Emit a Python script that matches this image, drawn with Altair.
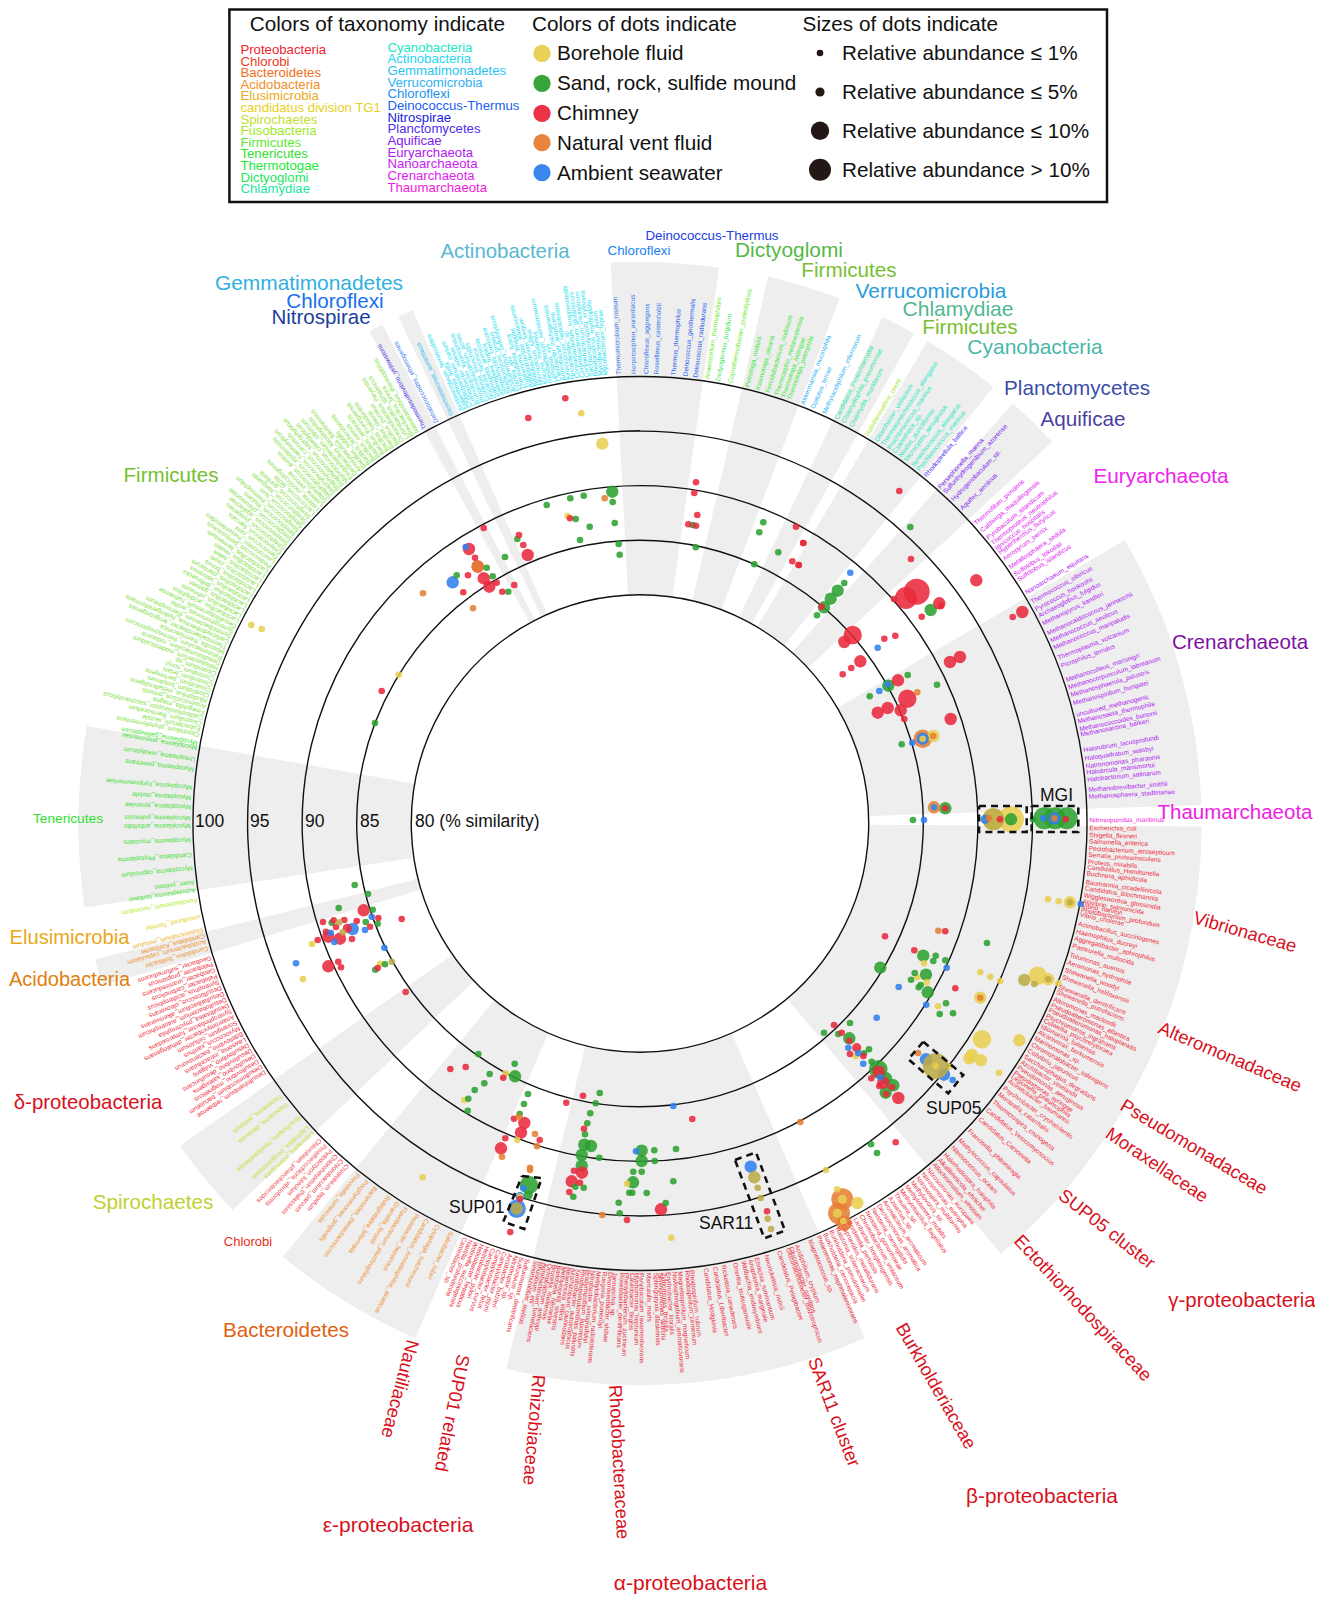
import numpy as np
import pandas as pd
import altair as alt

FONT = "Liberation Sans"
CX, CY, R_LABEL = 640, 823.5, 449.5

# ---------- scales: the layout plane of the circular diagram ----------
xs = alt.Scale(domain=[8, 1315], nice=False, zero=False)
ys = alt.Scale(domain=[1594, 8], nice=False, zero=False)
rs = alt.Scale(type="linear", domain=[80, 100], range=[228.7, 447.0], zero=False)
ts = alt.Scale(type="linear", domain=[0, 360], range=[0, 2 * np.pi], zero=False)
X = lambda f: alt.X(f, type="quantitative", scale=xs, axis=None)
Y = lambda f: alt.Y(f, type="quantitative", scale=ys, axis=None)

# ---------- rings (% similarity) and grey clade sectors ----------
ring_similarity = [80, 85, 90, 95, 100]
sector_start = [-3.0, 13.2, 25.6, 30.8, 41.6, 59.7, 90.3, 156.4, 203.6, 226.5, 253.2, 261.4, 331.2, 334.5]
sector_end = [8.1, 20.8, 29.2, 39.0, 47.2, 88.1, 140.0, 193.8, 219.5, 235.0, 256.0, 280.0, 332.7, 336.1]
sector_outer = [110.5] * 14

# ---------- dots (x, y in the diagram plane, abundance class) ----------
borehole = [(581.3,413.3,1),(602.3,443.7,3),(251.3,625,1),(261.7,629,1),(398.7,674.7,1),(1048,899.3,1),(1058.7,901.3,1),
 (1070,902.3,3),(924,963.3,1),(980.3,972.3,1),(990.3,976.7,1),(1000.3,981,1),(1037.7,975.7,5),(1048.3,979.3,3),(1058.3,983.3,1),
 (917,977.3,1),(926.7,982.3,1),(980.3,997.7,3),(938,1006.3,1),(982,1039.3,5),(1019.3,1040.3,3),(972,1055,3),(969.3,1058.3,3),
 (981,1060.3,3),(999,1072.7,1),(855.7,1056,1),(949,1066.7,1),(826,1170,1),(842.3,1199.3,2),(857.3,1203,3),
 (837,1189.3,1),(837.3,1213.3,2),(843.3,1221,1),(671.3,1237.7,1),(627,1183.7,1),(505.7,1073.3,1),(464.3,1100,1),(517.3,1140,1),
 (422.7,1177.3,1),(520,1196.7,1),(567.7,516,1),(312,944,1),(380.3,963.7,1),(303,979,1),(933.3,736,3),(922.7,738.7,1),
 (934,807.3,1),(993.3,819.3,6),(1011,819.3,7)]
mixed = [(1024.3,980,3),(1034.3,984,1),(1070,902.3,1),(1048.3,979.3,1),(754.3,1177.3,3),(757.7,1187.7,1),
 (760.7,1198,1),(767.7,1218.7,1),(771,1229,1),(516.7,1208.7,3),(339.3,922.3,1),(342.7,932.3,1),(391.7,961.7,1),(993.3,819.3,6)]
sand = [(910.3,527,1),(930.7,610,3),(844.3,583,1),(837.7,590.7,3),(830.7,598.7,3),(824,607.3,3),(817,615.3,1),(907.7,675,1),
 (888.3,685.7,3),(937,684.7,1),(869.7,696.3,1),(901.7,744.3,1),(945.3,808.3,3),(913,820,1),(1011,819.3,3),(1044.3,818.3,6),
 (1055,818.3,6),(1066.7,818.3,6),(1033,819.3,1),(987,943,1),(923.3,955.7,3),(935.7,955.7,1),(933.3,961,1),(945.3,960.3,1),
 (880.3,967.7,3),(914.7,973,1),(911,979.7,1),(926,974.7,3),(920.7,985,1),(918.7,987.3,1),(927.7,992.3,3),(946,1003.3,1),
 (939.7,1014,1),(953,1013.3,1),(850,1023,1),(824,1032.7,1),(838.3,1034,1),(849.3,1038.3,3),(869,1049.3,1),(864,1053.3,1),
 (871.7,1061.7,1),(878.3,1069.3,5),(886,1078.3,3),(893.3,1085.3,3),(885.7,1092.7,3),(871,1144.3,1),(877,1153,1),
 (676,1149,1),(654.3,1150.3,1),(654.7,1161,1),(641.7,1150.7,3),(641.7,1161,3),(641.7,1171.7,1),(633.3,1171.7,1),(633,1182.3,3),
 (673.3,1181.3,1),(646.7,1193,1),(632.3,1192.7,1),(629.3,1192.7,1),(618.7,1202.7,1),(619.7,1213.3,1),(665.7,1203,1),
 (599.7,1093,1),(595.7,1103.3,1),(590.3,1113.3,1),(587.3,1123.3,1),(585,1134.3,1),(584.3,1144.7,3),(591,1146,3),(581.7,1155,3),
 (599.3,1157.7,1),(581.7,1165.7,3),(575.3,1186.7,1),(583.7,1187.7,1),(573.3,1196.7,1),(478.3,1054,1),(514.7,1063.7,1),
 (515,1076.3,3),(489.7,1074,1),(484.3,1083.3,1),(474.7,1090,1),(468.3,1098.7,1),(467.7,1110.7,1),(528,1094,1),(524,1104,1),
 (519.7,1114,1),(529,1185,5),(528.3,1195,2),(375,723,1),(354.7,885,1),(368,894,1),(372.7,909.7,1),(338.7,908,1),(331.7,922.7,1),
 (365.7,922,1),(377.7,923.7,1),(375.3,969.7,1),(385,964.3,1),(763.3,522.3,1),(759.3,532.3,1),(778.3,552.3,1),(754.3,564.3,1),
 (692.7,525,1),(695.7,547.3,1),(612.3,491.7,3),(612.7,502,1),(583.7,495.7,1),(570.3,498.3,1),(546.7,505,1),(575.7,519,1),
 (589.7,526.7,1),(614.7,523,1),(580,540,1),(618.7,544,1),(619.7,554.7,1),(517.3,539,1),(505,557,1),(486.7,567.7,1),(456.7,575.3,1),
 (492.7,576.3,1),(508.3,591.7,1)]
chimney = [(899.3,491,1),(911,559,1),(976.3,580.3,3),(916.7,591.7,7),(906,598,6),(894,599,1),(939.3,603.3,3),(941,606,1),(921.7,616.7,1),
 (1022.3,612,3),(1012.7,617,1),(803.3,543,1),(798.7,565,1),(821.7,606.7,1),(852.7,635,5),(844.3,642,3),(884.3,638.7,1),(895.3,635.7,1),
 (860.3,661.3,3),(851.3,668,1),(842.7,674.3,1),(950,662,3),(960,657,3),(898,680.3,3),(907.3,698.7,5),(887.7,708,3),(877.7,712.7,3),
 (900.7,710.3,3),(904.3,719,1),(950.7,719,3),(945.3,808.3,1),(1000,819.3,1),(1065.7,819.3,1),(885,936.3,1),(945.3,931.3,1),
 (914.3,950.3,1),(955.3,988.3,1),(834,1025,1),(841.7,1032.7,1),(849.3,1040.7,1),(856.7,1047.7,2),(850,1054,1),(863.3,1056,1),
 (878.7,1071.7,3),(871.3,1078.3,1),(883.3,1082.7,3),(892,1087.3,1),(879.3,1086,1),(886,1094,1),(898.3,1098,3),(895.7,1142.3,1),
 (692.3,1119,1),(767,1211.3,1),(661,1209.3,3),(627,1220,1),(583,1095.7,1),(566.3,1102.7,1),(584,1128.7,1),(574,1170.7,1),(582,1172.7,3),
 (571.7,1181.3,3),(580,1182.7,1),(569.3,1192,1),(450.3,1069,1),(465.7,1067,1),(503.3,1077.7,1),(514,1118.7,1),(524.3,1123,3),(521,1132.7,3),
 (539.7,1140,1),(505.3,1138.3,1),(501,1148.3,3),(510.3,1232,1),(520,1199,1),(363.7,910.3,3),(378.3,918,1),(401.7,919,1),(323,922,1),
 (333.7,920.3,1),(344.3,920,1),(356.7,921,1),(370,926.7,1),(336,927,1),(347.3,928.3,2),(326,931.7,1),(328.3,936.7,3),(340,938.7,3),
 (352,939,1),(317.7,940,1),(328.3,966.3,3),(338.3,961.7,1),(341,967.3,1),(377.7,968,1),(405.7,992,1),(528.3,418,1),(565.3,398.3,1),
 (381.7,691,1),(483.7,528,1),(519,535,1),(523.3,545,1),(527.7,555,3),(469,549,3),(475,557.7,1),(477.7,566.7,3),(468,575.3,1),(483.7,578.3,3),
 (489.3,586.7,3),(496.7,582.7,1),(463.3,592.3,1),(502.3,591.7,1),(514.3,585,1),(696,482.3,1),(694.3,493,1),(697.3,515,1),(688.3,524.3,1),
 (696,525.7,1),(796,526.7,1),(803.3,543,1),(792.3,561.3,1),(798.7,565,1),(570,518.3,1)]
vent = [(917.3,692.3,1),(922.7,738.7,5),(933.3,736,1),(934,807.3,3),(989,818.3,1),(1054.3,818.3,1),(938.3,930.7,1),(980.3,997.7,1),(918,1053,1),
 (842.3,1199.3,6),(839,1213.3,6),(844,1223.3,4),(800.3,1122,1),(602.3,1215,1),(519,1116.7,1),(535,1134,1),(537,1146.3,1),(502,1156.7,1),
 (530,1167.7,1),(530,1170,1),(604.7,498.3,1),(477.7,566.3,3),(423,593.3,1),(473,608.3,1)]
seawater = [(850.3,572.7,1),(877.7,647.7,1),(887.7,684.3,1),(879.3,691,1),(922.7,738.7,3),(912.3,742.7,1),(934,807.3,1),(924,820,1),(985,819.3,2),
 (1043.3,818.3,1),(1054.3,818.3,3),(1080.7,904,1),(946.7,967.7,1),(898.7,987,1),(926.3,1004.7,1),(876.7,1017.7,1),(848.3,1047.7,1),
 (858.3,1053.3,1),(863.3,1063.7,1),(880.3,1077.3,1),(926,1059.3,3),(944,1074.7,3),(952.7,1080,1),(673.3,1106,1),(750.7,1166.7,3),(636,1151.3,1),
 (523.3,1188.3,1),(520,1196.7,2),(516.7,1208.7,5),(371.7,916.7,1),(352.7,929,3),(365,930,1),(330.7,932.7,1),(334.3,942,1),(384.3,947.7,1),
 (296,963.3,1),(465.7,547,1),(452.7,582.3,3)]
dot_groups = {"Borehole fluid": borehole, "Sand, rock, sulfide mound": sand, "Chimney": chimney,
              "Natural vent fluid": vent, "Ambient seawater": seawater, "Overlap": mixed}
# the SUP05 cluster lies on top of its neighbours, whatever their size
sup05_top = {"Overlap": [(935.7,1066,7)], "Borehole fluid": [(935.7,1066,1)]}
dot_colors = ["#e8cf4f", "#2ca02f", "#e9283c", "#e67e33", "#2f80ee", "#bcaa46"]
size_radii = {1: 3.3, 2: 4.6, 3: 6.2, 4: 7.8, 5: 9.2, 6: 11, 7: 13}

# ---------- species labels: names and their angle round the circle ----------
thaum = ["Nitrosopumilus_maritimus"]; thaum_t = [89.6]
gamma1 = ["Escherichia_coli","Shigella_flexneri","Salmonella_enterica","Pectobacterium_atrosepticum","Serratia_proteamaculans","Proteus_mirabilis",
 "Candidatus_Hamiltonella","Buchnera_aphidicola","Baumannia_cicadellinicola","Candidatus_Blochmannia","Wigglesworthia_glossinidia",
 "Aliivibrio_salmonicida","Vibrio_harveyi","Photobacterium_profundum","Vibrio_cholerae"]
gamma1_t = [90.6,91.5,92.3,93.2,94,94.9,95.6,96.4,97.5,98.3,99.2,100,100.5,101.1,101.7]
gamma2 = ["Actinobacillus_succinogenes","Haemophilus_ducreyi","Aggregatibacter_aphrophilus","Pasteurella_multocida","Tolumonas_auensis",
 "Aeromonas_hydrophila","Shewanella_woodyi","Shewanella_halifaxensis","Shewanella_denitrificans","Shewanella_putrefaciens","Alteromonas_macleodii",
 "Pseudoalteromonas_atlantica","Pseudoalteromonas_haloplanktis","Psychromonas_ingrahamii","Colwellia_psychrerythraea","Idiomarina_loihiensis",
 "Alcanivorax_borkumensis","Marinomonas_sp.","Chromohalobacter_salexigens","Cellvibrio_japonicus","Saccharophagus_degradans","Azotobacter_vinelandii",
 "Pseudomonas_aeruginosa","Pseudomonas_syringae","Legionella_pneumophila","Acinetobacter_baumannii","Psychrobacter_cryohalolentis","Moraxella_catarrhalis",
 "Thiomicrospira_crunogena","Candidatus_Vesicomyosocius","Candidatus_Carsonella","Francisella_philomiragia","Methylococcus_capsulatus",
 "Nitrosococcus_oceani","Halorhodospira_halophila","Alkalilimnicola_ehrlichei","Allochromatium_vinosum"]
gamma2_t = [102.9,103.9,104.8,105.8,107,108,109,110,111.3,112,113,113.8,114.5,115.3,116,116.8,117.6,118.5,119.4,120.3,121.2,122,122.8,123.6,124.2,
 124.9,126,127,128.2,129.5,131,133,134.7,136,137.3,138.3,139.2]
beta = ["Nitrosomonas_europaea","Nitrosomonas_eutropha","Nitrosospira_multiformis","Methylovorus_sp.","Methylotenera_mobilis","Methylobacillus_flagellatus",
 "Thauera_sp.","Azoarcus_sp.","Aromatoleum_aromaticum","Dechloromonas_aromatica","Neisseria_meningitidis","Neisseria_gonorrhoeae","Chromobacterium_violaceum",
 "Laribacter_hongkongensis","Bordetella_pertussis","Cupriavidus_metallidurans","Ralstonia_solanacearum","Burkholderia_pseudomallei","Burkholderia_cenocepacia",
 "Polaromonas_naphthalenivorans"]
alpha1 = ["Magnetococcus_sp.","Acidiphilium_cryptum","Gluconobacter_oxydans","Gluconacetobacter_diazotrophicus","Candidatus_Pelagibacter","Neorickettsia_risticii",
 "Ehrlichia_ruminantium","Anaplasma_marginale","Wolbachia_endosymbiont","Orientia_tsutsugamushi","Rickettsia_canadensis","Candidatus_Liberibacter","Candidatus_Hodgkinia",
 "Rhodospirillum_rubrum","Rhodospirillum_centenum","Magnetospirillum_magneticum","Novosphingobium_aromaticivorans","Erythrobacter_litoralis","Zymomonas_mobilis",
 "Sphingomonas_wittichii","Sphingopyxis_alaskensis","Maricaulis_maris","Parvibaculum_lavamentivorans","Hyphomonas_neptunium","Caulobacter_segnis","Phenylobacterium_zucineum",
 "Roseobacter_denitrificans","Jannaschia_sp.","Dinoroseobacter_shibae","Ruegeria_pomeroyi","Methylobacterium_radiotolerans"]
alpha1_t = [157.8,159.6,160.4,160.8,162,163.7,165,165.8,166.7,167.8,169.3,170.4,171.6,173.4,174,174.9,175.6,176.4,177,177.4,178,178.9,179.8,180.4,181,181.7,182.3,183.2,183.8,184.5,185.3]
alpha2 = ["Nitrobacter_winogradskyi","Bradyrhizobium_japonicum","Rhodopseudomonas_palustris","Xanthobacter_autotrophicus","Azorhizobium_caulinodans","Beijerinckia_indica",
 "Methylocella_silvestris","Bartonella_henselae","Brucella_melitensis","Ochrobactrum_anthropi","Agrobacterium_tumefaciens","Rhizobium_etli","Sinorhizobium_meliloti"]
eps = ["Sulfurimonas_denitrificans","Sulfurovum_sp.","Nitratiruptor_sp.","Arcobacter_butzleri","Campylobacter_jejuni","Campylobacter_fetus","Campylobacter_curvus",
 "Helicobacter_pylori","Helicobacter_hepaticus","Wolinella_succinogenes","Nautilia_profundicola","Caminibacter_sp."]
bact = ["Salinibacter_ruber","Cytophaga_hutchinsonii","Candidatus_Amoebophilus_asiaticus","Pedobacter_heparinus","Flavobacterium_psychrophilum","Gramella_forsetii",
 "Robiginitalea_biformata","Bacteroides_thetaiotaomicron","Porphyromonas_gingivalis","Prevotella_ruminicola"]
bact_t = [204.8,206.7,208.3,209.7,211.4,212.6,214,216,217.4,218.8]
chlorobi = ["Chlorobium_tepidum","Chlorobaculum_parvum","Chloroherpeton_thalassium","Pelodictyon_luteolum","Prosthecochloris_vibrioformis","Chlorobium_phaeobacteroides"]
spiro = ["Leptospira_interrogans","Leptospira_borgpetersenii","Brachyspira_hyodysenteriae","Treponema_denticola","Treponema_pallidum"]
spiro_t = [226.6,227.5,229.2,231.5,232.8]
delta = ["Desulfohalobium_retbaense","Desulfomicrobium_baculatum","Desulfovibrio_magneticus","Desulfovibrio_salexigens","Desulfovibrio_desulfuricans","Desulfovibrio_vulgaris",
 "Lawsonia_intracellularis","Bdellovibrio_bacteriovorus","Myxococcus_xanthus","Sorangium_cellulosum","Anaeromyxobacter_dehalogenans","Syntrophobacter_fumaroxidans",
 "Desulfotalea_psychrophila","Desulfobacterium_autotrophicum","Desulfatibacillum_alkenivorans","Desulfococcus_oleovorans","Syntrophus_aciditrophicus","Pelobacter_carbinolicus",
 "Geobacter_uraniireducens","Pelobacter_propionicus","Geobacter_sulfurreducens"]
acido = ["Candidatus_Solibacter","Acidobacterium_capsulatum","Candidatus_Koribacter"]; acido_t = [253.9,254.8,255.5]
elus = ["Elusimicrobium_minutum"]; elus_t = [256.3]
tg1 = ["uncultured_Termite"]; tg1_t = [258]
fuso = ["Fusobacterium_nucleatum"]; fuso_t = [260.2]
tener = ["Acholeplasma_laidlawii","Aster_yellows","Mycoplasma_capricolum","Candidatus_Phytoplasma","Mycoplasma_mycoides","Mycoplasma_arthritidis","Mycoplasma_pulmonis",
 "Mycoplasma_synoviae","Mycoplasma_mobile","Mycoplasma_hyopneumoniae","Mycoplasma_penetrans","Ureaplasma_urealyticum","Mycoplasma_pneumoniae","Mycoplasma_gallisepticum"]
tener_t = [261.5,262.5,264.3,266,267.9,269.7,270.7,272.1,273.3,274.6,276.9,278.2,279.7,280.3]
firm = ["Clostridium_phytofermentans","Eubacterium_rectale","Clostridium_thermocellum","Caldicellulosiruptor_saccharolyticus","Finegoldia_magna","Anaerococcus_prevotii",
 "Alkaliphilus_metalliredigens","Clostridium_botulinum","Clostridium_perfringens","Clostridium_tetani","Clostridium_novyi","Clostridium_sp.","Heliobacterium_modesticaldum",
 "Desulfotomaculum_reducens","Pelotomaculum_thermopropionicum","Moorella_thermoacetica","Thermoanaerobacter_tengcongensis","Carboxydothermus_hydrogenoformans",
 "Symbiobacterium_thermophilum","Syntrophomonas_wolfei","Desulfitobacterium_hafniense","Lactobacillus_acidophilus","Lactobacillus_johnsonii","Lactobacillus_gasseri",
 "Lactobacillus_delbrueckii","Lactobacillus_salivarius","Lactobacillus_plantarum","Lactobacillus_brevis","Lactobacillus_casei","Lactobacillus_sakei","Lactobacillus_reuteri",
 "Lactobacillus_fermentum","Pediococcus_pentosaceus","Leuconostoc_mesenteroides","Oenococcus_oeni","Enterococcus_faecalis","Streptococcus_pyogenes","Streptococcus_agalactiae",
 "Streptococcus_pneumoniae","Streptococcus_mutans","Streptococcus_thermophilus","Streptococcus_suis","Streptococcus_sanguinis","Streptococcus_gordonii","Lactococcus_lactis",
 "Listeria_monocytogenes","Listeria_innocua","Staphylococcus_aureus","Staphylococcus_epidermidis","Staphylococcus_haemolyticus","Staphylococcus_carnosus",
 "Staphylococcus_saprophyticus","Macrococcus_caseolyticus","Exiguobacterium_sibiricum","Geobacillus_kaustophilus","Anoxybacillus_flavithermus","Bacillus_subtilis",
 "Bacillus_licheniformis","Bacillus_cereus","Bacillus_anthracis","Bacillus_thuringiensis","Bacillus_halodurans","Bacillus_clausii","Bacillus_pumilus",
 "Oceanobacillus_iheyensis","Lysinibacillus_sphaericus","Brevibacillus_brevis","Natranaerobius_thermophilus"]
nitro = ["Thermodesulfovibrio_yellowstonii"]; nitro_t = [331.4]
dehalo = ["Dehalococcoides_ethenogenes"]; dehalo_t = [333.1]
gemma = ["Gemmatimonas_aurantiaca"]; gemma_t = [335.2]
actino = ["Acidimicrobium_ferrooxidans","Eggerthella_lenta","Cryptobacterium_curtum","Conexibacter_woesei","Rubrobacter_xylanophilus","Propionibacterium_acnes","Gordonia_bronchialis",
 "Nocardia_farcinica","Salinispora_arenicola","Salinispora_tropica","Streptomyces_coelicolor","Streptomyces_griseus","Acidothermus_cellulolyticus","Frankia_alni",
 "Thermobifida_fusca","Tropheryma_whipplei","Bifidobacterium_adolescentis","Bifidobacterium_longum","Micrococcus_luteus","Kocuria_rhizophila","Renibacterium_salmoninarum",
 "Leifsonia_xyli","Clavibacter_michiganensis","Arthrobacter_aurescens","Kineococcus_radiotolerans","Nocardioides_sp.","Corynebacterium_kroppenstedtii",
 "Corynebacterium_glutamicum","Corynebacterium_urealyticum","Saccharopolyspora_erythraea","Rhodococcus_erythropolis","Mycobacterium_avium","Mycobacterium_leprae"]
chlorofl = ["Thermomicrobium_roseum","Herpetosiphon_aurantiacus","Chloroflexus_aggregans","Roseiflexus_castenholzii"]; chlorofl_t = [-2.7,-0.8,0.8,2.1]
deino = ["Thermus_thermophilus","Deinococcus_geothermalis","Deinococcus_radiodurans"]; deino_t = [4.3,5.8,7.1]
firm2 = ["Anaerocellum_thermophilum"]; firm2_t = [8.6]
dicty = ["Dictyoglomus_turgidum"]; dicty_t = [10]
firm3 = ["Coprothermobacter_proteolyticus"]; firm3_t = [11.6]
thermotog = ["Petrotoga_mobilis","Kosmotoga_olearia","Fervidobacterium_nodosum","Thermosipho_melanesiensis","Thermotoga_lettingae","Thermotoga_petrophila"]
thermotog_t = [13.8,15.2,16.5,17.7,18.6,19.4]
verruco = ["Akkermansia_muciniphila","Opitutus_terrae","Methylacidiphilum_infernorum"]; verruco_t = [21.2,22.6,24.2]
chlam = ["Candidatus_Protochlamydia","Chlamydophila_pneumoniae","Chlamydia_muridarum"]; chlam_t = [25.9,26.9,28]
firm4 = ["Halothermothrix_orenii"]; firm4_t = [30.3]
cyano = ["Gloeobacter_violaceus","Thermosynechococcus_elongatus","Prochlorococcus_marinus","Cyanothece_sp.","Nostoc_punctiforme","Microcystis_aeruginosa","Synechococcus_elongatus","Prochlorococcus_marinus"]
cyano_t = [31.7,32.7,33.6,34.4,35.3,36.2,37.3,38.2]
plancto = ["Rhodopirellula_baltica"]; plancto_t = [39.4]
aquif = ["Persephonella_marina","Sulfurihydrogenibium_azorense","Hydrogenobaculum_sp.","Aquifex_aeolicus"]; aquif_t = [41.7,42.6,44,45.6]
cren = ["Thermofilum_pendens","Caldivirga_maquilingensis","Pyrobaculum_islandicum","Thermoproteus_neutrophilus","Ignicoccus_hospitalis","Hyperthermus_butylicus","Aeropyrum_pernix",
 "Metallosphaera_sedula","Sulfolobus_tokodaii","Sulfolobus_islandicus"]
cren_t = [48.2,49.4,50.6,51.5,52.3,53,54,55.3,56.4,57.2]
eury = ["Nanoarchaeum_equitans","Thermococcus_sibiricus","Pyrococcus_horikoshii","Archaeoglobus_fulgidus","Methanopyrus_kandleri","Methanocaldococcus_jannaschii","Methanococcus_aeolicus",
 "Methanococcus_maripaludis","Thermoplasma_volcanium","Picrophilus_torridus","Methanoculleus_marisnigri","Methanocorpusculum_labreanum","Methanosphaerula_palustris",
 "Methanospirillum_hungatei","uncultured_methanogenic","Methanosaeta_thermophila","Methanococcoides_burtonii","Methanosarcina_barkeri","Halorubrum_lacusprofundi","Haloquadratum_walsbyi",
 "Natronomonas_pharaonis","Haloarcula_marismortui","Halobacterium_salinarum","Methanobrevibacter_smithii","Methanosphaera_stadtmanae"]
eury_t = [59.1,60.5,61.6,62.5,63.6,65,66,67,68.4,69.5,71.4,72.4,73.4,74.5,76,76.9,77.9,78.6,80.6,81.7,82.7,83.5,84.4,85.7,86.6]

leaf_groups = [
 (thaum, thaum_t, "#f020d8"), (gamma1, gamma1_t, "#ee2a3c"), (gamma2, gamma2_t, "#ee2a3c"),
 (beta, np.linspace(140.2, 156.6, len(beta)), "#ee2a3c"), (alpha1, alpha1_t, "#ee2a3c"),
 (alpha2, np.linspace(186, 193.4, len(alpha2)), "#ee2a3c"), (eps, np.linspace(194.5, 202.9, len(eps)), "#ee2a3c"),
 (bact, bact_t, "#f09030"), (chlorobi, np.linspace(220.6, 225.3, len(chlorobi)), "#f03a4a"),
 (spiro, spiro_t, "#c8e030"), (delta, np.linspace(236.5, 252.6, len(delta)), "#ee2a3c"),
 (acido, acido_t, "#f09028"), (elus, elus_t, "#ecaa1e"), (tg1, tg1_t, "#e8d020"), (fuso, fuso_t, "#b8e828"),
 (tener, tener_t, "#40e030"), (firm, np.linspace(281.4, 330.3, len(firm)), "#80e040"),
 (nitro, nitro_t, "#5040e8"), (dehalo, dehalo_t, "#3878f0"), (gemma, gemma_t, "#30c0f0"),
 (actino, np.linspace(336.6, 355.6, len(actino)), "#28e0f0"), (chlorofl, chlorofl_t, "#3078f0"),
 (deino, deino_t, "#2858f0"), (firm2, firm2_t, "#70e830"), (dicty, dicty_t, "#40e860"), (firm3, firm3_t, "#70e830"),
 (thermotog, thermotog_t, "#38e838"), (verruco, verruco_t, "#30b0f0"), (chlam, chlam_t, "#28e8a0"),
 (firm4, firm4_t, "#a8e828"), (cyano, cyano_t, "#20e8c0"), (plancto, plancto_t, "#5030f0"), (aquif, aquif_t, "#8020f0"),
 (cren, cren_t, "#e020f0"), (eury, eury_t, "#b020f0"),
]

# ---------- clade captions ----------
cap_text = ["Actinobacteria","Chloroflexi","Deinococcus-Thermus","Dictyoglomi","Firmicutes","Verrucomicrobia","Chlamydiae","Firmicutes","Cyanobacteria",
 "Planctomycetes","Aquificae","Euryarchaeota","Crenarchaeota","Thaumarchaeota","Vibrionaceae","Alteromonadaceae","Pseudomonadaceae","Moraxellaceae","SUP05 cluster",
 "Ectothiorhodospiraceae","γ-proteobacteria","Burkholderiaceae","SAR11 cluster","β-proteobacteria","Rhodobacteraceae","Rhizobiaceae","SUP01 related","Nautiliaceae",
 "ε-proteobacteria","α-proteobacteria","Bacteroidetes","Chlorobi","Spirochaetes","δ-proteobacteria","Acidobacteria","Elusimicrobia","Tenericutes","Firmicutes",
 "Nitrospirae","Chloroflexi","Gemmatimonadetes"]
cap_x = [505,639,712,789,849,931,958,970,1035,1077,1083,1161,1240,1235,1245,1230,1194,1157,1107,1083,1242,936,834,1042,619,534,452,400,398,690.5,286,248,153,88,69.5,69.5,68,171,321,335,309]
cap_y = [251,250,234.6,250,270,291,309,326.5,347,387.7,419,476,641.6,812,932,1057,1147,1165,1229,1308,1300,1386,1412,1496,1462,1430,1413,1389,1525,1583,1330,1241,1202,1102,979,937,818,475,317,301,283]
cap_size = [20.4,13.3,13.3,20.9,20.7,20.9,21,20.7,21,20.7,20.7,20.8,20.6,20.5,18.3,18.3,18.3,18.3,18.3,18.3,20.4,18.3,18.3,20.8,18.3,18.3,18.3,18.3,21,21,20.6,13,20.7,20.4,20,20.2,13.7,20.6,20.5,20.6,20.9]
cap_rot = [0,0,0,0,0,0,0,0,0,0,0,0,0,0,16,23,31,34,38,47,0,60,69,0,87,95,101,105,0,0,0,0,0,0,0,0,0,0,0,0,0]
cap_color = ["#5bb8d0","#2080f0","#2040e0","#55b848","#78c030","#2a9cd8","#50b890","#78c030","#48b8a8","#3a4ea8","#4a3f9e","#f020f0","#8010a0","#f020e0"] + \
 ["#d8101c"]*16 + ["#e06010","#e83020","#c0d030","#d8101c","#e08010","#e8a818","#30e030","#78c030","#1a3f9c","#1670f0","#30b0e0"]

# ---------- text inside the diagram and dashed boxes ----------
anno_text = ["100","95","90","85","80 (% similarity)","MGI","SUP05","SUP01","SAR11"]
anno_x = [195,250,305,360,415,1040,926,449,699]
anno_y = [821,821,821,821,821,795,1107.5,1206.7,1222.7]
box_a = [(979,806),(1026.7,806),(1026.7,832),(979,832)]
box_b = [(1031.7,806),(1078.3,806),(1078.3,832),(1031.7,832)]
box_c = [(923.3,1041.7),(963.3,1075),(948.3,1093.3),(908.3,1059.3)]
box_d = [(735,1160),(756,1152.3),(785,1230.7),(764.3,1238.3)]
box_e = [(522,1176),(541.7,1178),(524.3,1229),(503.3,1221.7)]

# ---------- key ----------
key_titles = ["Colors of taxonomy indicate","Colors of dots indicate","Sizes of dots indicate"]
key_title_x = [249.7,532,802.6]
tax1 = ["Proteobacteria","Chlorobi","Bacteroidetes","Acidobacteria","Elusimicrobia","candidatus division TG1","Spirochaetes","Fusobacteria","Firmicutes","Tenericutes","Thermotogae","Dictyoglomi","Chlamydiae"]
tax1_c = ["#f0222e","#f03a22","#f07020","#f08f28","#ecaa1e","#e8d020","#c0e030","#a0e828","#60e830","#30e030","#20e838","#20e860","#20e8a0"]
tax2 = ["Cyanobacteria","Actinobacteria","Gemmatimonadetes","Verrucomicrobia","Chloroflexi","Deinococcus-Thermus","Nitrospirae","Planctomycetes","Aquificae","Euryarchaeota","Nanoarchaeota","Crenarchaeota","Thaumarchaeota"]
tax2_c = ["#20e8c0","#22d8f0","#28c4f0","#30b0f0","#2090f0","#2060f0","#2020e0","#5030f0","#8020f0","#b020f0","#c820f0","#e020f0","#f020d8"]
dot_key = ["Borehole fluid","Sand, rock, sulfide mound","Chimney","Natural vent fluid","Ambient seawater"]
dot_key_y = [53.3,83.3,113.3,142.7,172.7]
abund_key = ["Relative abundance ≤ 1%","Relative abundance ≤ 5%","Relative abundance ≤ 10%","Relative abundance > 10%"]
abund_key_y = [53,92,130.7,169.7]
abund_key_class = [1, 2, 5, 6]

# ---------- tables ----------
area = lambda cls: 4 * size_radii[cls] ** 2
def dot_rows(groups):
    out = []
    for grp, pts in groups.items():
        out += [{"x": p[0], "y": p[1], "cls": p[2], "a": area(p[2]), "src": grp} for p in pts]
    return pd.DataFrame(out).sort_values("cls", ascending=False, kind="stable")

sectors = pd.DataFrame({"a": sector_start, "b": sector_end, "o": sector_outer, "i": [80] * 14, "cx": CX, "cy": CY})
rings = pd.DataFrame({"sim": ring_similarity, "cx": CX, "cy": CY})
dots = pd.concat([dot_rows(dot_groups), dot_rows(sup05_top)], ignore_index=True)
rows = []
for names, thetas, col in leaf_groups:
    for n, t in zip(names, thetas):
        rad = np.radians(t)
        rows.append({"t": n, "x": CX + R_LABEL * np.sin(rad), "y": CY - R_LABEL * np.cos(rad), "rot": (t - 90) % 360, "c": col})
leaves = pd.DataFrame(rows)
caps = pd.DataFrame({"t": cap_text, "x": cap_x, "y": cap_y, "fs": cap_size, "rot": [r % 360 for r in cap_rot], "c": cap_color})
annos = pd.DataFrame({"t": anno_text, "x": anno_x, "y": anno_y})
rows = []
for k, b in enumerate([box_a, box_b, box_c, box_d, box_e]):
    for j, p in enumerate(b + b[:1]):
        rows.append({"x": p[0], "y": p[1], "k": k, "j": j})
boxes = pd.DataFrame(rows)
key_left = pd.DataFrame(
    [{"t": t, "x": x, "y": 24, "fs": 20.7, "c": "#111111"} for t, x in zip(key_titles, key_title_x)]
    + [{"t": t, "x": 240.4, "y": 49 + 11.6 * i, "fs": 13.2, "c": c} for i, (t, c) in enumerate(zip(tax1, tax1_c))]
    + [{"t": t, "x": 387.4, "y": 46.7 + 11.67 * i, "fs": 13.2, "c": c} for i, (t, c) in enumerate(zip(tax2, tax2_c))]
    + [{"t": t, "x": 557, "y": y, "fs": 20.7, "c": "#111111"} for t, y in zip(dot_key, dot_key_y)]
    + [{"t": t, "x": 842, "y": y, "fs": 20.7, "c": "#111111"} for t, y in zip(abund_key, abund_key_y)]
)
key_dots = pd.DataFrame({"x": [542] * 5, "y": dot_key_y, "src": dot_key})
key_sizes = pd.DataFrame({"x": [820] * 4, "y": abund_key_y, "a": [area(c) for c in abund_key_class]})
key_frame = pd.DataFrame({"x": [229.4], "x2": [1107], "y": [9.4], "y2": [202]})

# ---------- layers ----------
color_scale = alt.Scale(domain=list(dot_groups.keys()), range=dot_colors)

sector_layer = alt.Chart(sectors).mark_arc(color="#eeeeee").encode(
    x=X("cx"), y=Y("cy"),
    theta=alt.Theta("a:Q", scale=ts, stack=None), theta2=alt.Theta2("b:Q"),
    radius=alt.Radius("o:Q", scale=rs, stack=None), radius2=alt.Radius2("i:Q"),
)
ring_layer = alt.Chart(rings).mark_arc(fillOpacity=0, stroke="#111111", strokeWidth=1.4, theta=0, theta2=6.28318).encode(
    x=X("cx"), y=Y("cy"), radius=alt.Radius("sim:Q", scale=rs, stack=None), radius2=alt.Radius2("sim:Q"),
)
dot_layer = alt.Chart(dots).mark_circle(opacity=0.87).encode(
    x=X("x"), y=Y("y"),
    color=alt.Color("src:N", scale=color_scale, legend=None),
    size=alt.Size("a:Q", scale=None),
)
leaf_layer = alt.Chart(leaves).mark_text(align="left", baseline="middle", font=FONT, fontSize=6.5).encode(
    x=X("x"), y=Y("y"), text="t:N", angle=alt.Angle("rot:Q", scale=None), color=alt.Color("c:N", scale=None),
)
cap_layer = alt.Chart(caps).mark_text(align="center", baseline="middle", font=FONT, dy=1).encode(
    x=X("x"), y=Y("y"), text="t:N", angle=alt.Angle("rot:Q", scale=None),
    color=alt.Color("c:N", scale=None), size=alt.Size("fs:Q", scale=None),
)
anno_layer = alt.Chart(annos).mark_text(align="left", baseline="middle", font=FONT, fontSize=17.5, color="#111111", dy=1).encode(
    x=X("x"), y=Y("y"), text="t:N",
)
box_layer = alt.Chart(boxes).mark_line(color="#111111", strokeWidth=2.6, strokeDash=[7, 5]).encode(
    x=X("x"), y=Y("y"), detail="k:N", order="j:Q",
)
frame_layer = alt.Chart(key_frame).mark_rect(fill="#ffffff", stroke="#111111", strokeWidth=2.5).encode(
    x=X("x"), x2="x2:Q", y=Y("y"), y2="y2:Q",
)
key_text_layer = alt.Chart(key_left).mark_text(align="left", baseline="middle", font=FONT, dy=1).encode(
    x=X("x"), y=Y("y"), text="t:N", color=alt.Color("c:N", scale=None), size=alt.Size("fs:Q", scale=None),
)
key_dot_layer = alt.Chart(key_dots).mark_circle(opacity=0.95, size=300).encode(
    x=X("x"), y=Y("y"), color=alt.Color("src:N", scale=color_scale, legend=None),
)
key_size_layer = alt.Chart(key_sizes).mark_circle(opacity=1, color="#231815").encode(
    x=X("x"), y=Y("y"), size=alt.Size("a:Q", scale=None),
)

chart = alt.layer(
    sector_layer, ring_layer, dot_layer, box_layer, leaf_layer, cap_layer, anno_layer,
    frame_layer, key_text_layer, key_dot_layer, key_size_layer,
).properties(
    width=1307, height=1586, padding=0, autosize=alt.AutoSizeParams(type="none"),
).configure_view(stroke=None)

chart.save("out.html", embed_options={"renderer": "svg", "actions": False})
